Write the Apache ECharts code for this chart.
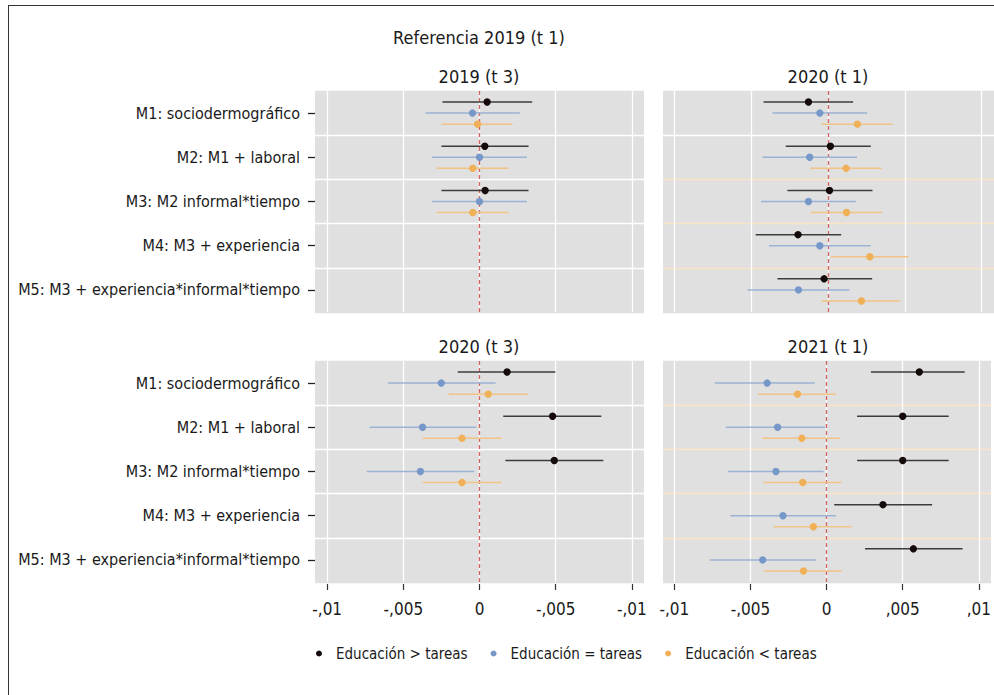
<!DOCTYPE html>
<html>
<head>
<meta charset="utf-8">
<script src="https://cdn.jsdelivr.net/npm/echarts@6/dist/echarts.min.js"></script>
<style>
html,body{margin:0;padding:0;background:#fff;}
#chart{width:994px;height:695px;}
</style>
</head>
<body>
<div id="chart"></div>
<script>
// ---------- data ----------
const models = [
  'M1: sociodermográfico',
  'M2: M1 + laboral',
  'M3: M2 informal*tiempo',
  'M4: M3 + experiencia',
  'M5: M3 + experiencia*informal*tiempo'
];
const groups = ['Educación > tareas', 'Educación = tareas', 'Educación < tareas'];
const panelTitles = ['2019 (t 3)', '2020 (t 1)', '2020 (t 3)', '2021 (t 1)'];
const mainTitle = 'Referencia 2019 (t 1)';
const tickValues = [-0.01, -0.005, 0, 0.005, 0.01];
const tickLabelsLeft = ['-,01', '-,005', '0', '-,005', '-,01'];
const tickLabelsRight = ['-,01', '-,005', '0', ',005', ',01'];

// rows per model: [estimate, low, high]  (null = not estimated)
const p2019t3_mayor = [[0.00050,-0.00243,0.00346],[0.00035,-0.00250,0.00322],[0.00037,-0.00250,0.00322],null,null];
const p2019t3_igual = [[-0.00046,-0.00355,0.00265],[0.00000,-0.00311,0.00311],[0.00000,-0.00311,0.00311],null,null];
const p2019t3_menor = [[-0.00013,-0.00250,0.00217],[-0.00044,-0.00281,0.00191],[-0.00044,-0.00281,0.00191],null,null];

const p2020t1_mayor = [[-0.00128,-0.00420,0.00163],[0.00015,-0.00276,0.00278],[0.00009,-0.00265,0.00289],[-0.00196,-0.00472,0.00085],[-0.00026,-0.00330,0.00287]];
const p2020t1_igual = [[-0.00054,-0.00363,0.00254],[-0.00120,-0.00428,0.00189],[-0.00128,-0.00437,0.00180],[-0.00054,-0.00385,0.00278],[-0.00193,-0.00524,0.00139]];
const p2020t1_menor = [[0.00191,-0.00043,0.00420],[0.00117,-0.00117,0.00348],[0.00120,-0.00113,0.00352],[0.00272,0.00017,0.00524],[0.00217,-0.00043,0.00470]];

const p2020t3_mayor = [[0.00181,-0.00143,0.00498],[0.00480,0.00156,0.00800],[0.00491,0.00170,0.00813],null,null];
const p2020t3_igual = [[-0.00251,-0.00599,0.00106],[-0.00374,-0.00722,-0.00020],[-0.00388,-0.00740,-0.00033],null,null];
const p2020t3_menor = [[0.00057,-0.00203,0.00317],[-0.00115,-0.00372,0.00145],[-0.00115,-0.00372,0.00145],null,null];

const p2021t1_mayor = [[0.00609,0.00291,0.00907],[0.00500,0.00200,0.00802],[0.00500,0.00200,0.00802],[0.00370,0.00050,0.00693],[0.00570,0.00252,0.00893]];
const p2021t1_igual = [[-0.00391,-0.00735,-0.00078],[-0.00322,-0.00663,-0.00011],[-0.00333,-0.00648,-0.00020],[-0.00287,-0.00633,0.00061],[-0.00420,-0.00767,-0.00072]];
const p2021t1_menor = [[-0.00191,-0.00452,0.00061],[-0.00163,-0.00422,0.00091],[-0.00157,-0.00417,0.00096],[-0.00087,-0.00348,0.00165],[-0.00152,-0.00413,0.00100]];

const panelData = [
  [p2019t3_mayor, p2019t3_igual, p2019t3_menor],
  [p2020t1_mayor, p2020t1_igual, p2020t1_menor],
  [p2020t3_mayor, p2020t3_igual, p2020t3_menor],
  [p2021t1_mayor, p2021t1_igual, p2021t1_menor]
];

// ---------- styles ----------
const FONT = "'Liberation Sans Narrow','DejaVu Sans Condensed','Roboto Condensed',sans-serif";
const pointColors = ['#140a0a', '#7698c8', '#f0b057'];
const lineColors = ['#3c3c3c', '#9bb2d5', '#f2c385'];
const dodge = [-0.25, 0, 0.25];
const WHITE = '#ffffff', ORNG = '#f9e4c6', BG = '#e0e0e0';
const hLineColors = [
  [BG, WHITE, WHITE, WHITE, WHITE, BG],
  [BG, WHITE, ORNG, ORNG, ORNG, BG],
  [BG, WHITE, WHITE, WHITE, WHITE, BG],
  [BG, ORNG, ORNG, ORNG, ORNG, BG]
];
const grids = [
  {left: 315, top: 91, width: 329, height: 221},
  {left: 663, top: 91, width: 331, height: 221},
  {left: 315, top: 361, width: 329, height: 221},
  {left: 663, top: 361, width: 331, height: 221}
];
const xRanges = [[-0.0108, 0.0108], [-0.01075, 0.0108], [-0.0108, 0.0108], [-0.01075, 0.0108]];
const titlePos = [[479, 76], [828, 76], [479, 346], [828, 346]];

const option = {
  animation: false,
  textStyle: {fontFamily: FONT},
  grid: grids.map(g => Object.assign({show: true, backgroundColor: BG, borderWidth: 0, containLabel: false}, g)),
  xAxis: grids.map((g, i) => {
    const bottom = i >= 2;
    const labels = i === 3 ? tickLabelsRight : tickLabelsLeft;
    return {
      type: 'value', gridIndex: i, min: xRanges[i][0], max: xRanges[i][1],
      offset: bottom ? 2 : 0,
      axisLine: {show: false, onZero: false},
      axisTick: {show: bottom, length: 6, lineStyle: {color: '#333', width: 1.2}, customValues: tickValues},
      axisLabel: {show: bottom, customValues: tickValues, margin: 16, fontSize: 17, color: '#1a1a1a', fontFamily: FONT,
        formatter: v => { const k = tickValues.findIndex(t => Math.abs(t - v) < 1e-9); return k >= 0 ? labels[k] : ''; }},
      splitLine: {show: true, lineStyle: {color: WHITE, width: 1.3}}
    };
  }),
  yAxis: grids.map((g, i) => {
    const left = i % 2 === 0;
    return {
      type: 'category', gridIndex: i, data: models, inverse: true,
      axisLine: {show: false, onZero: false},
      axisTick: {show: left, alignWithLabel: true, length: 7, lineStyle: {color: '#222', width: 1.3}},
      axisLabel: {show: left, fontSize: 16, color: '#1a1a1a', margin: 15, fontFamily: FONT},
      splitLine: {show: true, interval: 0, lineStyle: {color: hLineColors[i], width: 1.3}}
    };
  }),
  legend: {
    bottom: 29, left: 311, icon: 'circle', itemWidth: 6, itemHeight: 6, itemGap: 23,
    textStyle: {fontSize: 15, color: '#1a1a1a', fontFamily: FONT, padding: [0, 0, 0, 9]},
    data: groups
  },
  graphic: [
    {type: 'line', shape: {x1: 8, y1: 5.5, x2: 994, y2: 5.5}, style: {stroke: '#333', lineWidth: 1}},
    {type: 'line', shape: {x1: 8.5, y1: 5, x2: 8.5, y2: 695}, style: {stroke: '#333', lineWidth: 1}},
    {type: 'text', x: 479, y: 37, style: {text: mainTitle, font: '18px ' + FONT, fill: '#1a1a1a', textAlign: 'center', textVerticalAlign: 'middle'}}
  ].concat(panelTitles.map((t, i) => ({
    type: 'text', x: titlePos[i][0], y: titlePos[i][1],
    style: {text: t, font: '18px ' + FONT, fill: '#1a1a1a', textAlign: 'center', textVerticalAlign: 'middle'}
  }))),
  series: []
};

panelData.forEach((pd, pi) => {
  pd.forEach((rows, gi) => {
    const data = [];
    rows.forEach((r, mi) => { if (r) data.push([mi, r[0], r[1], r[2]]); });
    const s = {
      type: 'custom', name: groups[gi], xAxisIndex: pi, yAxisIndex: pi,
      itemStyle: {color: pointColors[gi]},
      encode: {y: 0, x: [1, 2, 3]},
      data: data,
      renderItem: (params, api) => {
        const ci = api.value(0);
        const band = api.size([0, 1])[1];
        const pE = api.coord([api.value(1), ci]);
        const pL = api.coord([api.value(2), ci]);
        const pH = api.coord([api.value(3), ci]);
        const y = pE[1] + band * dodge[gi];
        return {type: 'group', children: [
          {type: 'line', shape: {x1: pL[0], y1: y, x2: pH[0], y2: y}, style: {stroke: lineColors[gi], lineWidth: 1.5}},
          {type: 'circle', shape: {cx: pE[0], cy: y, r: 3.7}, style: {fill: pointColors[gi]}}
        ]};
      }
    };
    if (gi === 0) {
      s.markLine = {
        silent: true, symbol: ['none', 'none'], label: {show: false}, z: 1,
        lineStyle: {color: '#d2625f', type: [4, 3], width: 1.3},
        data: [{xAxis: 0}]
      };
    }
    option.series.push(s);
  });
});

const chart = echarts.init(document.getElementById('chart'), null, {renderer: 'svg'});
chart.setOption(option);
</script>
</body>
</html>
